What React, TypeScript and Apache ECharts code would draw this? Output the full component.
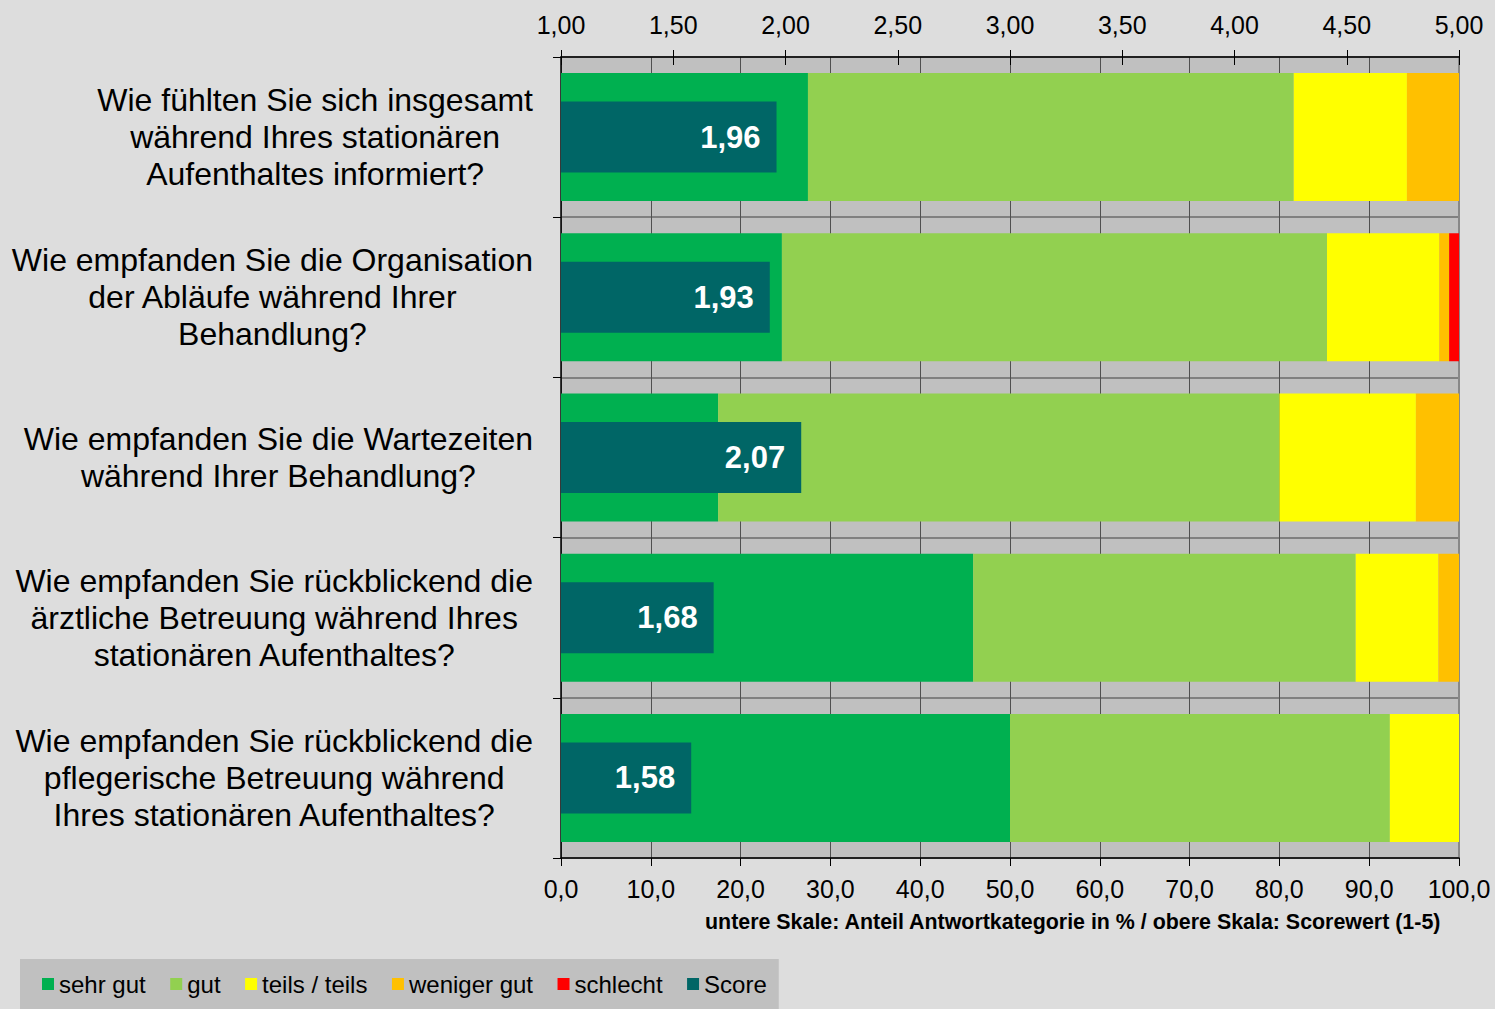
import React, { useEffect, useRef } from "react";
import * as echarts from "echarts";

const categories = [
  "Wie fühlten Sie sich insgesamt\nwährend Ihres stationären\nAufenthaltes informiert?",
  "Wie empfanden Sie die Organisation\nder Abläufe während Ihrer\nBehandlung?",
  "Wie empfanden Sie die Wartezeiten\nwährend Ihrer Behandlung?",
  "Wie empfanden Sie rückblickend die\närztliche Betreuung während Ihres\nstationären Aufenthaltes?",
  "Wie empfanden Sie rückblickend die\npflegerische Betreuung während\nIhres stationären Aufenthaltes?",
];

const sehrGut = [27.5, 24.6, 17.5, 45.9, 50.0];
const gut = [54.1, 60.7, 62.5, 42.6, 42.3];
const teilsTeils = [12.6, 12.5, 15.2, 9.2, 7.7];
const wenigerGut = [5.8, 1.1, 4.8, 2.3, 0];
const schlecht = [0, 1.1, 0, 0, 0];
const score = [1.96, 1.93, 2.07, 1.68, 1.58];

const seriesNames = ["sehr gut", "gut", "teils / teils", "weniger gut", "schlecht", "Score"];
const seriesColors = ["#00b050", "#92d050", "#ffff00", "#ffc000", "#ff0000", "#006666"];

const xTitle = "untere Skale: Anteil Antwortkategorie in % / obere Skala: Scorewert (1-5)";

const FONT = "'Liberation Sans', Arial, sans-serif";

export default function App() {
  const ref = useRef<HTMLDivElement>(null);

  useEffect(() => {
    if (!ref.current) return;
    const chart = echarts.init(ref.current, undefined, { renderer: "svg" });
    const stackData = [sehrGut, gut, teilsTeils, wenigerGut, schlecht];

    const stackSeries = stackData.map((d, i) => ({
      name: seriesNames[i],
      type: "bar",
      stack: "anteil",
      xAxisIndex: 0,
      yAxisIndex: 0,
      barWidth: 128,
      data: d,
      itemStyle: { color: seriesColors[i] },
      emphasis: { disabled: true },
    }));

    chart.setOption({
      animation: false,
      backgroundColor: "#dddddd",
      textStyle: { fontFamily: FONT },
      title: {
        text: xTitle,
        right: 53,
        top: 911,
        padding: 0,
        textStyle: { fontSize: 21.4, fontWeight: "bold", color: "#000", fontFamily: FONT },
      },
      legend: {
        left: 20,
        top: 959,
        padding: [13, 12, 13, 22],
        backgroundColor: "#c0c0c0",
        itemWidth: 12,
        itemHeight: 12,
        itemGap: 24.5,
        icon: "rect",
        data: seriesNames,
        textStyle: { fontSize: 24, color: "#000", fontFamily: FONT },
        selectedMode: false,
      },
      grid: {
        left: 561,
        right: 36,
        top: 57,
        bottom: 151,
        show: true,
        backgroundColor: "#c0c0c0",
        borderWidth: 0,
        containLabel: false,
        outerBoundsMode: "none",
      },
      xAxis: [
        {
          type: "value",
          position: "bottom",
          min: 0,
          max: 100,
          interval: 10,
          axisLine: { show: true, lineStyle: { color: "#000", width: 1.5 } },
          axisTick: { show: true, inside: false, length: 8, lineStyle: { color: "#000" } },
          axisLabel: {
            formatter: (v: number) => v.toFixed(1).replace(".", ","),
            fontSize: 25,
            color: "#000",
            margin: 18,
            fontFamily: FONT,
          },
          splitLine: { show: true, lineStyle: { color: "#505050", width: 1 } },
        },
        {
          type: "value",
          position: "top",
          min: 1,
          max: 5,
          interval: 0.5,
          axisLine: { show: true, lineStyle: { color: "#000", width: 1.5 } },
          axisTick: { show: true, inside: false, length: 7, lineStyle: { color: "#000" } },
          axisLabel: {
            formatter: (v: number) => v.toFixed(2).replace(".", ","),
            fontSize: 25,
            color: "#000",
            margin: 20,
            fontFamily: FONT,
          },
          splitLine: { show: false },
        },
        {
          type: "value",
          position: "top",
          min: 1,
          max: 5,
          interval: 0.5,
          axisLine: { show: false },
          axisTick: { show: true, inside: true, length: 8, lineStyle: { color: "#000" } },
          axisLabel: { show: false },
          splitLine: { show: false },
        },
      ],
      yAxis: [
        {
          type: "category",
          inverse: true,
          data: categories,
          axisLine: { show: true, lineStyle: { color: "#000", width: 1.5 } },
          axisTick: { show: true, inside: false, length: 8, lineStyle: { color: "#000" } },
          axisLabel: {
            align: "right",
            margin: 28,
            formatter: (v: string) =>
              v
                .split("\n")
                .map((l) => `{c|${l}}`)
                .join("\n"),
            rich: {
              c: {
                align: "center",
                fontSize: 32,
                lineHeight: 37,
                color: "#000",
                fontFamily: FONT,
              },
            },
          },
          splitLine: { show: true, lineStyle: { color: "#808080", width: 2 } },
        },
        {
          type: "category",
          inverse: true,
          position: "right",
          data: categories,
          axisLine: { show: true, lineStyle: { color: "#888888", width: 2 } },
          axisTick: { show: false },
          axisLabel: { show: false },
          splitLine: { show: false },
        },
      ],
      series: [
        ...stackSeries,
        {
          name: seriesNames[5],
          type: "bar",
          xAxisIndex: 1,
          yAxisIndex: 1,
          barWidth: 71,
          clip: true,
          data: score,
          itemStyle: { color: seriesColors[5] },
          emphasis: { disabled: true },
          label: {
            show: true,
            position: "insideRight",
            distance: 16,
            color: "#fff",
            fontSize: 31,
            fontWeight: "bold",
            fontFamily: FONT,
            formatter: (p: any) => Number(p.value).toFixed(2).replace(".", ","),
          },
        },
      ],
    });

    return () => chart.dispose();
  }, []);

  return (
    <div
      ref={ref}
      style={{ position: "fixed", left: 0, top: 0, width: 1495, height: 1009 }}
    />
  );
}
